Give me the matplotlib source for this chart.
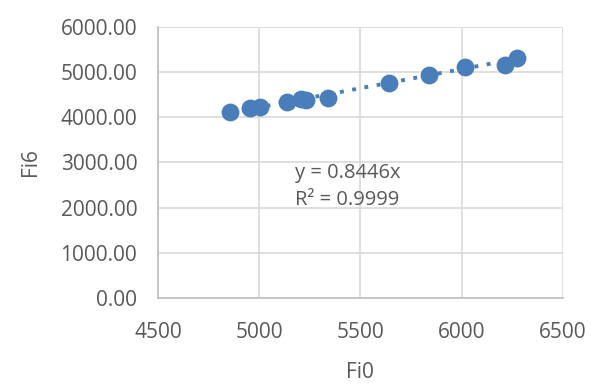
import matplotlib
matplotlib.use("Agg")
import matplotlib.pyplot as plt
import numpy as np

fi0 = [4855, 4954, 5003, 5138, 5206, 5230, 5338, 5640, 5839, 6015, 6213, 6273]
fi6 = [4124, 4200, 4235, 4346, 4405, 4383, 4434, 4753, 4937, 5121, 5158, 5306]
x_ticks = [4500, 5000, 5500, 6000, 6500]
y_ticks = [0, 1000, 2000, 3000, 4000, 5000, 6000]
slope_label = 0.8446
r2_label = 0.9999

plt.rcParams['font.family'] = ['Open Sans', 'DejaVu Sans']
txt = '#595959'
blue = '#4a7ebb'

fig = plt.figure(figsize=(6.15, 3.92), dpi=100)
ax = fig.add_axes([0.257, 0.240, 0.658, 0.691])

x = np.array(fi0, dtype=float)
y = np.array(fi6, dtype=float)
xs = np.array([x.min(), x.max()])
ax.plot(xs, slope_label * xs, linestyle=(0, (1, 2.2)), color=blue, linewidth=2.8, zorder=2)
ax.scatter(x, y, s=165, color=blue, zorder=3, linewidths=0)

ax.set_xlim(4500, 6500)
ax.set_ylim(0, 6000)
ax.set_xticks(x_ticks)
ax.set_yticks(y_ticks)
ax.set_yticklabels([f"{v:.2f}" for v in y_ticks])
ax.grid(True, color='#d9d9d9', linewidth=1.2)
ax.set_axisbelow(True)
for s in ['top', 'right']:
    ax.spines[s].set_visible(False)
for s in ['left', 'bottom']:
    ax.spines[s].set_color('#bfbfbf')
    ax.spines[s].set_linewidth(1.2)
ax.tick_params(axis='y', length=0, labelsize=15, colors=txt, pad=15)
ax.tick_params(axis='x', length=0, labelsize=15, colors=txt, pad=17)
ax.set_xlabel('Fi0', fontsize=15, color=txt, labelpad=14)
ax.set_ylabel('Fi6', fontsize=15, color=txt, labelpad=14)

ax.text(5176, 2767, f"y = {slope_label}x", fontsize=14.5, color=txt, ha='left', va='center')
ax.text(5176, 2170, f"R² = {r2_label}", fontsize=14.5, color=txt, ha='left', va='center')

fig.savefig('out.png', dpi=100)
